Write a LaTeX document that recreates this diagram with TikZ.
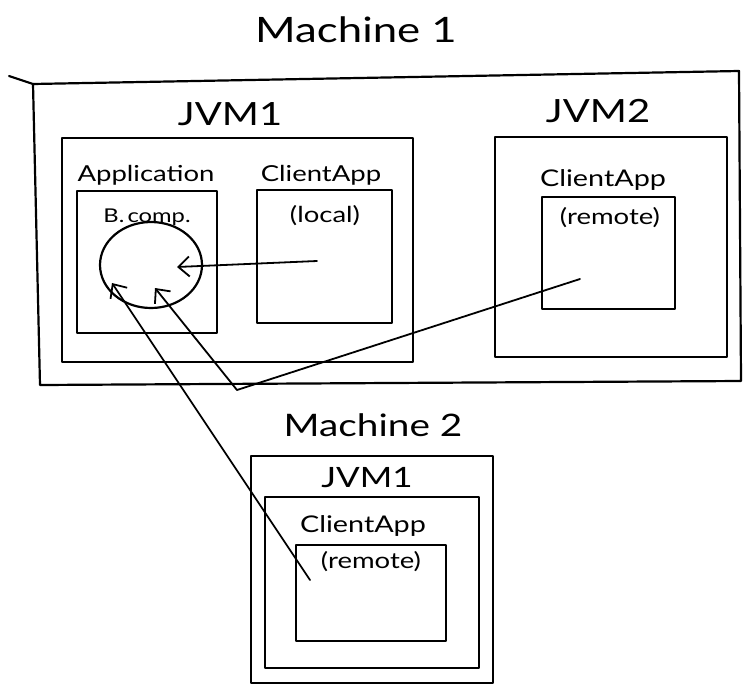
\documentclass[tikz,border=0pt]{standalone}
\usepackage{fontspec}
\setmainfont{Lato}
\newfontfamily\hand[FakeStretch=1.25]{Lato}
\usetikzlibrary{arrows.meta,shapes.geometric}
\begin{document}
\begin{tikzpicture}[x=1pt,y=-1pt,
  box/.style={draw, line width=2.2pt, line join=round, line cap=round},
  lbl/.style={inner sep=0pt, anchor=base},
  conn/.style={line width=1.8pt, line join=round, line cap=round},
  tip/.style={-{Straight Barb[length=11pt,width=20pt,line width=1.8pt]}}]
\useasboundingbox (0,0) rectangle (743,685);

% ---------- Machine 1 ----------
\node[lbl, font={\hand\fontsize{35}{35}\selectfont}] (m1title) at (356,43) {Machine 1};
\draw[box] (33,84) -- (739,71) -- (741,381) -- (40,385) -- cycle;
\draw[box] (9,76) -- (33,84);

% JVM1
\node[lbl, font={\hand\fontsize{32}{32}\selectfont}] (jvm1lbl) at (230,125) {JVM1};
\draw[box] (62,138) rectangle (413,362);
\node[lbl, font={\hand\fontsize{22}{22}\selectfont}] (applbl) at (146,181) {Application};
\draw[box] (77,191) rectangle (217,333);
\node[lbl, font={\hand\fontsize{19}{19}\selectfont}] (bcomplbl) at (147,222) {B.\,comp.};
\node[draw, ellipse, line width=2.2pt, minimum width=102pt, minimum height=86pt, inner sep=0pt] (comp) at (151,265) {};
\node[lbl, font={\hand\fontsize{22}{22}\selectfont}] (cl1lbl) at (321,181) {ClientApp};
\draw[box] (257,190) rectangle (392,323);
\node[lbl, font={\hand\fontsize{22}{22}\selectfont}] (locallbl) at (325,222) {(local)};

% JVM2
\node[lbl, font={\hand\fontsize{32}{32}\selectfont}] (jvm2lbl) at (598,122) {JVM2};
\draw[box] (495,137) rectangle (727,357);
\node[lbl, font={\hand\fontsize{23}{23}\selectfont}] (cl2lbl) at (603,186) {ClientApp};
\draw[box] (542,197) rectangle (675,309);
\node[lbl, font={\hand\fontsize{22}{22}\selectfont}] (rem2lbl) at (610,224) {(remote)};

% ---------- Machine 2 ----------
\node[lbl, font={\hand\fontsize{31}{31}\selectfont}] (m2title) at (373,436) {Machine 2};
\draw[box] (251,456) rectangle (493,683);
\node[lbl, font={\hand\fontsize{28}{28}\selectfont}] (jvm3lbl) at (367,487) {JVM1};
\draw[box] (265,497) rectangle (479,668);
\node[lbl, font={\hand\fontsize{23}{23}\selectfont}] (cl3lbl) at (363,532) {ClientApp};
\draw[box] (296,545) rectangle (446,641);
\node[lbl, font={\hand\fontsize{22}{22}\selectfont}] (rem3lbl) at (371,568) {(remote)};

% ---------- connectors ----------
\coordinate (localsrc) at (317,261);
\coordinate (localtip) at (177,267);
\coordinate (remsrc) at (580,279);
\coordinate (bend) at (237,390);
\coordinate (remtip) at (155,288);
\coordinate (m2src) at (310,580);
\coordinate (m2tip) at (112,283);

\draw[conn, tip] (localsrc) -- (localtip);
\draw[conn, tip] (remsrc) -- (bend) -- (remtip);
\draw[conn, tip] (m2src) -- (m2tip);
\end{tikzpicture}
\end{document}
